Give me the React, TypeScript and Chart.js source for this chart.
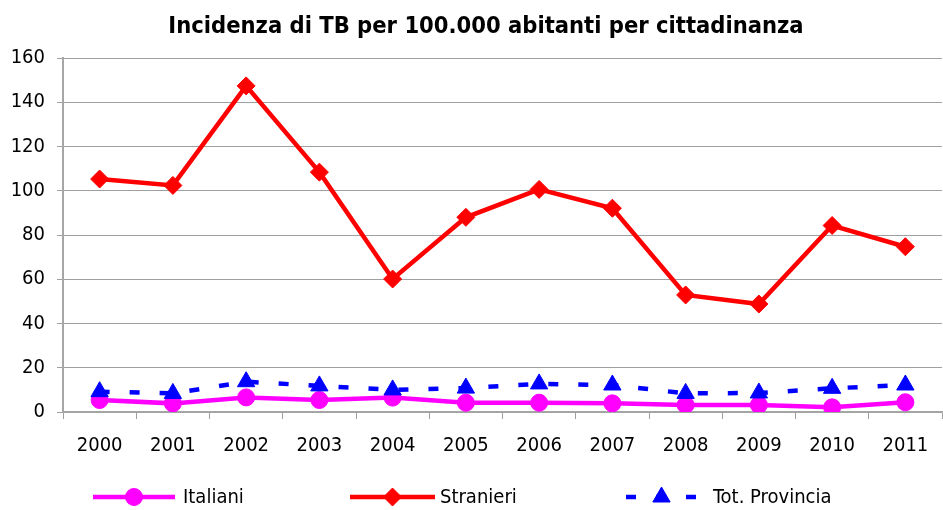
import React, { useEffect, useRef } from "react";
import { Chart, registerables } from "chart.js";
import { drawPoint } from "chart.js/helpers";

Chart.register(...registerables);

const chartTitle = "Incidenza di TB per 100.000 abitanti per cittadinanza";
const years = ["2000", "2001", "2002", "2003", "2004", "2005", "2006", "2007", "2008", "2009", "2010", "2011"];
const italiani = [5.4, 3.9, 6.6, 5.4, 6.5, 4.2, 4.2, 3.9, 3.2, 3.2, 2.1, 4.4];
const stranieri = [105.3, 102.4, 147.4, 108.4, 60.1, 88.0, 100.6, 92.1, 52.9, 48.8, 84.3, 74.7];
const totProvincia = [9.2, 8.4, 13.7, 11.8, 10.0, 10.8, 12.7, 12.2, 8.4, 8.6, 10.7, 12.2];
const yMin = 0;
const yMax = 160;
const yStep = 20;

const FONT = "'DejaVu Sans Condensed', 'DejaVu Sans', sans-serif";

const legendSlots = [
  { x0: 93, x1: 175, tx: 183 },
  { x0: 350, x1: 435, tx: 440 },
  { x0: 626, x1: 697, tx: 713 },
];

const decorPlugin = {
  id: "decor",
  afterDraw(chart: any) {
    const ctx = chart.ctx;
    ctx.save();
    ctx.fillStyle = "#000";
    ctx.font = `bold 23.5px ${FONT}`;
    ctx.textAlign = "center";
    ctx.textBaseline = "middle";
    ctx.fillText(chartTitle, 486, 27);

    const y = 497;
    chart.data.datasets.forEach((ds: any, i: number) => {
      const s = legendSlots[i];
      ctx.save();
      ctx.strokeStyle = ds.borderColor;
      ctx.lineWidth = ds.borderWidth;
      ctx.lineCap = "butt";
      ctx.setLineDash(ds.borderDash || []);
      ctx.beginPath();
      ctx.moveTo(s.x0, y);
      ctx.lineTo(s.x1, y);
      ctx.stroke();
      ctx.setLineDash([]);
      ctx.fillStyle = ds.pointBackgroundColor;
      ctx.strokeStyle = ds.pointBorderColor;
      ctx.lineWidth = 1;
      drawPoint(ctx, { pointStyle: ds.pointStyle, radius: ds.pointRadius, rotation: 0, borderWidth: 1 }, (s.x0 + s.x1) / 2, y);
      ctx.restore();
      ctx.fillStyle = "#000";
      ctx.font = `20px ${FONT}`;
      ctx.textAlign = "left";
      ctx.textBaseline = "middle";
      ctx.fillText(ds.label, s.tx, y + 1);
    });
    ctx.restore();
  },
};

export default function App() {
  const ref = useRef<HTMLCanvasElement>(null);
  useEffect(() => {
    document.body.style.margin = "0";
    const canvas = ref.current!;
    const chart = new Chart(canvas, {
      type: "line",
      data: {
        labels: years,
        datasets: [
          {
            label: "Italiani",
            data: italiani,
            borderColor: "#FF00FF",
            backgroundColor: "#FF00FF",
            pointBackgroundColor: "#FF00FF",
            pointBorderColor: "#FF00FF",
            borderWidth: 4.5,
            pointStyle: "circle",
            pointRadius: 8.5,
            pointBorderWidth: 1,
            tension: 0,
            order: 3,
          },
          {
            label: "Stranieri",
            data: stranieri,
            borderColor: "#FF0000",
            backgroundColor: "#FF0000",
            pointBackgroundColor: "#FF0000",
            pointBorderColor: "#FF0000",
            borderWidth: 4.5,
            pointStyle: "rectRot",
            pointRadius: 9,
            pointBorderWidth: 1,
            tension: 0,
            order: 2,
          },
          {
            label: "Tot. Provincia",
            data: totProvincia,
            borderColor: "#0000FF",
            backgroundColor: "#0000FF",
            pointBackgroundColor: "#0000FF",
            pointBorderColor: "#0000FF",
            borderWidth: 4.5,
            borderDash: [10, 20],
            borderCapStyle: "butt",
            pointStyle: "triangle",
            pointRadius: 10,
            pointBorderWidth: 1,
            tension: 0,
            order: 1,
          },
        ],
      },
      options: {
        responsive: false,
        animation: false,
        layout: { autoPadding: false, padding: { top: 58, left: 0, right: 1, bottom: 45 } },
        plugins: {
          legend: { display: false },
          title: { display: false },
          tooltip: { enabled: false },
        },
        scales: {
          x: {
            offset: true,
            grid: {
              offset: true,
              drawOnChartArea: false,
              drawTicks: true,
              tickLength: 7,
              color: "#a0a0a0",
              lineWidth: 1,
            },
            border: { color: "#a6a6a6", width: 1.5 },
            ticks: { color: "#000", font: { family: FONT, size: 20 }, padding: 15, maxRotation: 0, autoSkip: false },
            afterFit(scale: any) {
              scale.height = 53;
              scale.paddingLeft = 0;
              scale.paddingRight = 0;
            },
          },
          y: {
            min: yMin,
            max: yMax,
            ticks: { stepSize: yStep, color: "#000", font: { family: FONT, size: 20 }, padding: 12 },
            grid: { color: "#a0a0a0", lineWidth: 1, tickLength: 6 },
            border: { color: "#a6a6a6", width: 2 },
            afterFit(scale: any) {
              scale.width = 63;
            },
          },
        },
      },
      plugins: [decorPlugin],
    });
    return () => chart.destroy();
  }, []);
  return <canvas ref={ref} width={943} height={510} style={{ display: "block" }} />;
}
